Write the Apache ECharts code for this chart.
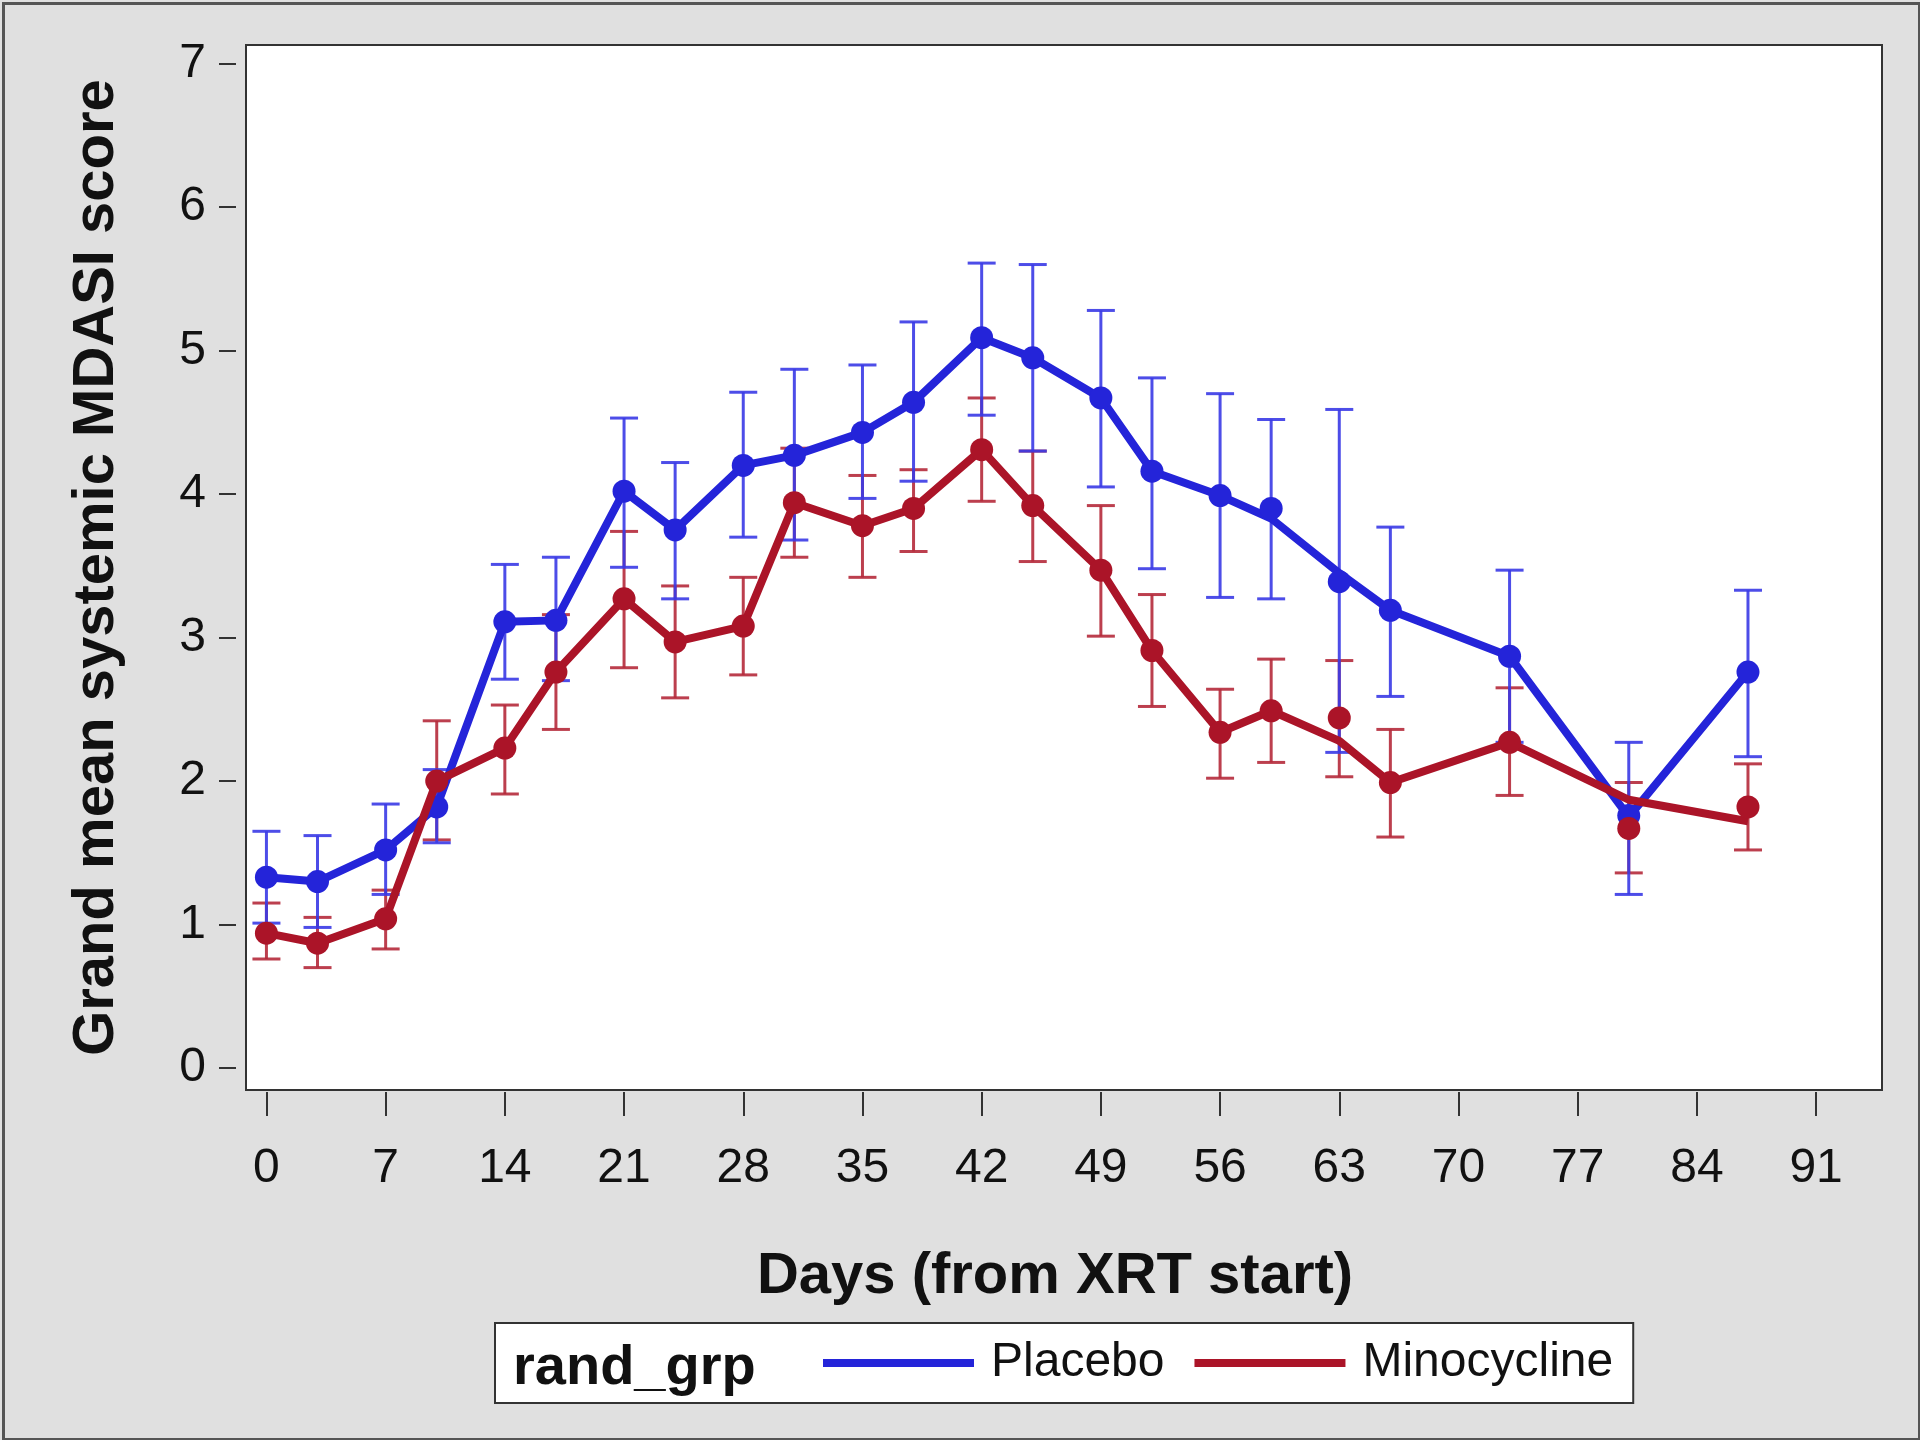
<!DOCTYPE html>
<html>
<head>
<meta charset="utf-8">
<script src="https://cdn.jsdelivr.net/npm/echarts@6/dist/echarts.min.js"></script>
<style>
html,body{margin:0;padding:0;background:#e0e0e0;}
#chart{width:1920px;height:1440px;}
</style>
</head>
<body>
<div id="chart"></div>
<script>
// ---- data ----
const days = [0,3,7,10,14,17,21,24,28,31,35,38,42,45,49,52,56,59,63,66,73,80,87];
const xTicks = [0,7,14,21,28,35,42,49,56,63,70,77,84,91];
const yTicks = [0,1,2,3,4,5,6,7];

const placeboMean  = [1.33,1.30,1.52,1.82,3.11,3.12,4.02,3.75,4.20,4.27,4.43,4.64,5.09,4.95,4.67,4.16,3.99,3.90,3.39,3.19,2.87,1.76,2.76];
const placeboLine  = [1.33,1.30,1.52,1.82,3.11,3.12,4.02,3.75,4.20,4.27,4.43,4.64,5.09,4.95,4.67,4.16,3.99,3.83,3.45,3.19,2.87,1.75,2.76];
const placeboLower = [1.01,0.98,1.21,1.57,2.71,2.70,3.49,3.27,3.70,3.68,3.97,4.09,4.55,4.30,4.05,3.48,3.28,3.27,2.20,2.59,2.27,1.21,2.17];
const placeboUpper = [1.65,1.62,1.84,2.08,3.51,3.56,4.53,4.22,4.71,4.87,4.90,5.20,5.61,5.60,5.28,4.81,4.70,4.52,4.59,3.77,3.47,2.27,3.33];

const minoMean  = [0.94,0.87,1.04,2.00,2.23,2.76,3.27,2.97,3.08,3.94,3.78,3.90,4.31,3.92,3.47,2.91,2.34,2.49,2.44,1.99,2.27,1.67,1.82];
const minoLine  = [0.94,0.87,1.04,2.00,2.23,2.76,3.27,2.97,3.08,3.94,3.78,3.90,4.31,3.92,3.47,2.91,2.34,2.49,2.28,1.99,2.27,1.87,1.72];
const minoLower = [0.76,0.70,0.83,1.59,1.91,2.36,2.79,2.58,2.74,3.56,3.42,3.60,3.95,3.53,3.01,2.52,2.02,2.13,2.03,1.61,1.90,1.36,1.52];
const minoUpper = [1.15,1.05,1.24,2.42,2.53,3.16,3.74,3.36,3.42,4.32,4.13,4.17,4.67,4.30,3.92,3.30,2.64,2.85,2.84,2.36,2.65,1.99,2.12];

const groups = ['Placebo','Minocycline'];
const legendTitle = 'rand_grp';
const xTitle = 'Days (from XRT start)';
const yTitle = 'Grand mean systemic MDASI score';

// ---- styling ----
const BLUE = '#2424d9', BLUE_ERR = '#3a3ae6';
const RED = '#ab1428', RED_ERR = '#b52a3b';
const FONT = '"Liberation Sans", Arial, sans-serif';

function pairs(xs, ys){ return xs.map((x,i)=>[x, ys[i]]); }
function triples(xs, lo, hi){ return xs.map((x,i)=>[x, lo[i], hi[i]]); }

function errRender(color){
  return function(params, api){
    const x = api.value(0);
    const lo = api.coord([x, api.value(1)]);
    const hi = api.coord([x, api.value(2)]);
    const hw = 14;
    const st = {stroke: color, lineWidth: 3, opacity: 0.9};
    return {type:'group', children:[
      {type:'line', shape:{x1:lo[0],y1:lo[1],x2:hi[0],y2:hi[1]}, style:st},
      {type:'line', shape:{x1:lo[0]-hw,y1:lo[1],x2:lo[0]+hw,y2:lo[1]}, style:st},
      {type:'line', shape:{x1:hi[0]-hw,y1:hi[1],x2:hi[0]+hw,y2:hi[1]}, style:st}
    ]};
  };
}

const chart = echarts.init(document.getElementById('chart'), null, {renderer:'canvas'});
chart.setOption({
  backgroundColor: '#e0e0e0',
  animation: false,
  textStyle: {fontFamily: FONT},
  grid: {left: 246, top: 45, right: 38, bottom: 350, show: true,
         backgroundColor: '#ffffff', borderColor: '#333333', borderWidth: 2},
  xAxis: {
    type: 'value', min: -1.2, max: 94.87, offset: 2,
    axisLine: {show: false, onZero: false},
    axisTick: {show: true, length: 24, customValues: xTicks, lineStyle: {color: '#333', width: 2}},
    axisLabel: {customValues: xTicks, fontSize: 48, color: '#111', margin: 53, fontFamily: FONT},
    splitLine: {show: false},
    name: xTitle, nameLocation: 'middle', nameGap: 156, nameMoveOverlap: false,
    nameTextStyle: {fontSize: 58, fontWeight: 'bold', color: '#111', fontFamily: FONT, padding: [0, 18, 0, 0]}
  },
  yAxis: {
    type: 'value', min: -0.153, max: 7.13, offset: 10,
    axisLine: {show: false, onZero: false},
    axisTick: {show: true, length: 17, customValues: yTicks, lineStyle: {color: '#333', width: 2}},
    axisLabel: {customValues: yTicks, fontSize: 48, color: '#111', margin: 30, fontFamily: FONT},
    splitLine: {show: false},
    name: yTitle, nameLocation: 'middle', nameGap: 110, nameMoveOverlap: false,
    nameTextStyle: {fontSize: 58, fontWeight: 'bold', color: '#111', fontFamily: FONT}
  },
  legend: {
    show: true, data: groups, left: 495, top: 1323, orient: 'horizontal',
    icon: 'rect', itemWidth: 151, itemHeight: 8, itemGap: 30,
    padding: [16, 20, 16, 328],
    backgroundColor: '#ffffff', borderColor: '#333333', borderWidth: 2,
    selectedMode: false,
    textStyle: {fontSize: 48, color: '#111', fontFamily: FONT, padding: [4, 0, 0, 12]}
  },
  graphic: [
    {type: 'rect', left: 1, top: 1, shape: {width: 1916, height: 1436},
     style: {fill: 'none', stroke: '#555555', lineWidth: 3}, silent: true},
    {type: 'text', left: 513, top: 1341, style: {text: legendTitle, font: 'bold 56px ' + FONT, fill: '#111'}, z: 100}
  ],
  series: [
    {name: 'Minocycline CI', type: 'custom', renderItem: errRender(RED_ERR), data: triples(days, minoLower, minoUpper), encode: {x: 0, y: [1, 2]}, z: 2},
    {name: 'Placebo CI', type: 'custom', renderItem: errRender(BLUE_ERR), data: triples(days, placeboLower, placeboUpper), encode: {x: 0, y: [1, 2]}, z: 3},
    {name: 'Placebo', type: 'line', data: pairs(days, placeboLine), showSymbol: false, symbol: 'none',
     lineStyle: {color: BLUE, width: 8}, itemStyle: {color: BLUE}, z: 4},
    {name: 'Placebo mean', type: 'scatter', data: pairs(days, placeboMean), symbol: 'circle', symbolSize: 23,
     itemStyle: {color: BLUE, opacity: 1}, z: 5},
    {name: 'Minocycline', type: 'line', data: pairs(days, minoLine), showSymbol: false, symbol: 'none',
     lineStyle: {color: RED, width: 8}, itemStyle: {color: RED}, z: 6},
    {name: 'Minocycline mean', type: 'scatter', data: pairs(days, minoMean), symbol: 'circle', symbolSize: 23,
     itemStyle: {color: RED, opacity: 1}, z: 7}
  ]
});
</script>
</body>
</html>
